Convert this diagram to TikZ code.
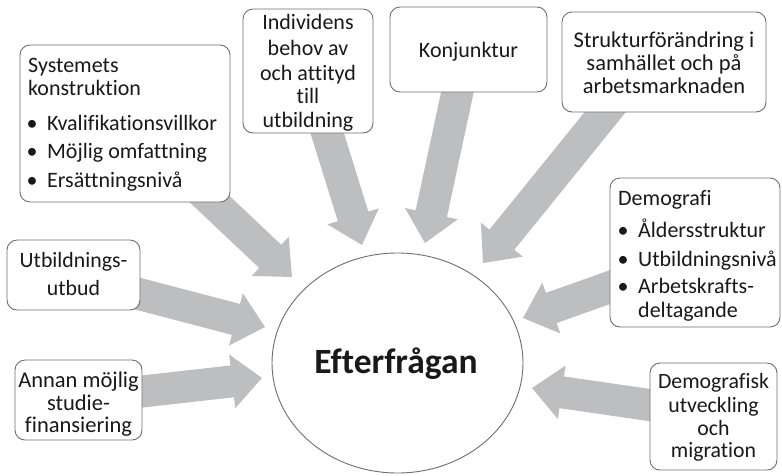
\documentclass[tikz,border=0pt]{standalone}
\usepackage{fontspec}
\setmainfont{Carlito}[Ligatures=NoCommon]
\usetikzlibrary{calc,shapes.geometric}
\definecolor{argray}{HTML}{BDBEC0}
\definecolor{bordergray}{HTML}{6E6E6E}
\newcommand\bul{\makebox[30pt][c]{\textbullet}}
\newcommand\blockarrow[2]{%
  \fill[argray] let \p1=(#1), \p2=(#2),
    \n1={atan2(\y2-\y1,\x2-\x1)}, \n2={veclen(\x2-\x1,\y2-\y1)} in
    [shift={(\p1)}, rotate=\n1]
    (0pt,-16pt) -- ({\n2*1pt-30pt},-16pt) -- ({\n2*1pt-30pt},-27pt) -- ({\n2*1pt},0pt)
    -- ({\n2*1pt-30pt},27pt) -- ({\n2*1pt-30pt},16pt) -- (0pt,16pt) -- cycle;}
\begin{document}
\begin{tikzpicture}[x=1pt,y=-1pt,
  box/.style={draw=bordergray, line width=0.9pt, rounded corners=10pt, fill=white, inner sep=0pt},
  txt/.style={inner sep=0pt, text=black!90},
  fa/.style={txt, font=\fontsize{22}{26}\selectfont},
  fd/.style={txt, font=\fontsize{22.5}{27}\selectfont},
  fe/.style={txt, font=\fontsize{21.8}{26}\selectfont}]
\useasboundingbox (0,0) rectangle (782,475);

% arrow end points
\coordinate (a1s) at (200,190); \coordinate (a1t) at (292,277);
\coordinate (a2s) at (320,110); \coordinate (a2t) at (362,245);
\coordinate (a3s) at (460,80);  \coordinate (a3t) at (425,243);
\coordinate (a4s) at (615,100); \coordinate (a4t) at (483,263);
\coordinate (a5s) at (630,280); \coordinate (a5t) at (523,318);
\coordinate (a6s) at (670,408); \coordinate (a6t) at (532,388);
\coordinate (a7s) at (120,289); \coordinate (a7t) at (265,327);
\coordinate (a8s) at (120,394); \coordinate (a8t) at (262,378);
\foreach \k in {1,...,8} {\blockarrow{a\k s}{a\k t}}

% boxes
\node[box, minimum width=210pt, minimum height=157pt] (sys) at (125,123.5) {};
\node[box, minimum width=130pt, minimum height=124pt] (ind) at (308,71) {};
\node[box, minimum width=157pt, minimum height=85pt] (konj) at (468.5,49.5) {};
\node[box, minimum width=204pt, minimum height=100pt] (str) at (664,62) {};
\node[box, minimum width=170pt, minimum height=149pt] (dem) at (695,252.5) {};
\node[box, minimum width=133pt, minimum height=70pt] (utb) at (73.5,275) {};
\node[box, minimum width=127pt, minimum height=80pt] (ann) at (78.5,400) {};
\node[box, minimum width=127pt, minimum height=107pt] (demf) at (713.5,416.5) {};

\node[draw=bordergray, line width=0.9pt, ellipse, fill=white, minimum width=251pt, minimum height=220pt, inner sep=0pt] (eft) at (397.5,363) {};
\node[anchor=base, inner sep=0pt, text=black!90, font=\fontsize{35.5}{40}\selectfont\bfseries] (eftt) at (396,373) {Efterfrågan};

% texts
\node[fa, anchor=base west] (sys1) at (28,72) {Systemets};
\node[fa, anchor=base west] (sys2) at (28,95) {konstruktion};
\node[fa, anchor=base west] (sys3) at (17,130) {\bul Kvalifikationsvillkor};
\node[fa, anchor=base west] (sys4) at (17,158) {\bul Möjlig omfattning};
\node[fa, anchor=base west] (sys5) at (17,187) {\bul Ersättningsnivå};

\foreach \yy/\tx [count=\i] in {29/Individens, 55/behov av, 80/och attityd, 103/till, 127/utbildning}
  \node[fa, anchor=base] (ind\i) at (308,\yy) {\tx};

\node[fa, anchor=base] (konj1) at (468.5,57) {Konjunktur};

\foreach \yy/\tx [count=\i] in {47/Strukturförändring i, 70/samhället och på, 93/arbetsmarknaden}
  \node[fd, anchor=base] (str\i) at (664,\yy) {\tx};

\node[fa, anchor=base west] (dem1) at (618,205) {Demografi};
\node[fa, anchor=base west] (dem2) at (608,237) {\bul Åldersstruktur};
\node[fa, anchor=base west] (dem3) at (608,266) {\bul Utbildningsnivå};
\node[fa, anchor=base west] (dem4) at (608,293) {\bul Arbetskrafts-};
\node[fa, anchor=base west] (dem5) at (638,317) {deltagande};

\foreach \yy/\tx [count=\i] in {267/Utbildnings-, 295/utbud}
  \node[fe, anchor=base] (utb\i) at (73.5,\yy) {\tx};

\foreach \yy/\tx [count=\i] in {387/Annan möjlig, 410/studie-, 432/finansiering}
  \node[fd, anchor=base] (ann\i) at (78.5,\yy) {\tx};

\foreach \yy/\tx [count=\i] in {388/Demografisk, 412/utveckling, 435/och, 457/migration}
  \node[fe, anchor=base] (demf\i) at (713.5,\yy) {\tx};
\end{tikzpicture}
\end{document}
